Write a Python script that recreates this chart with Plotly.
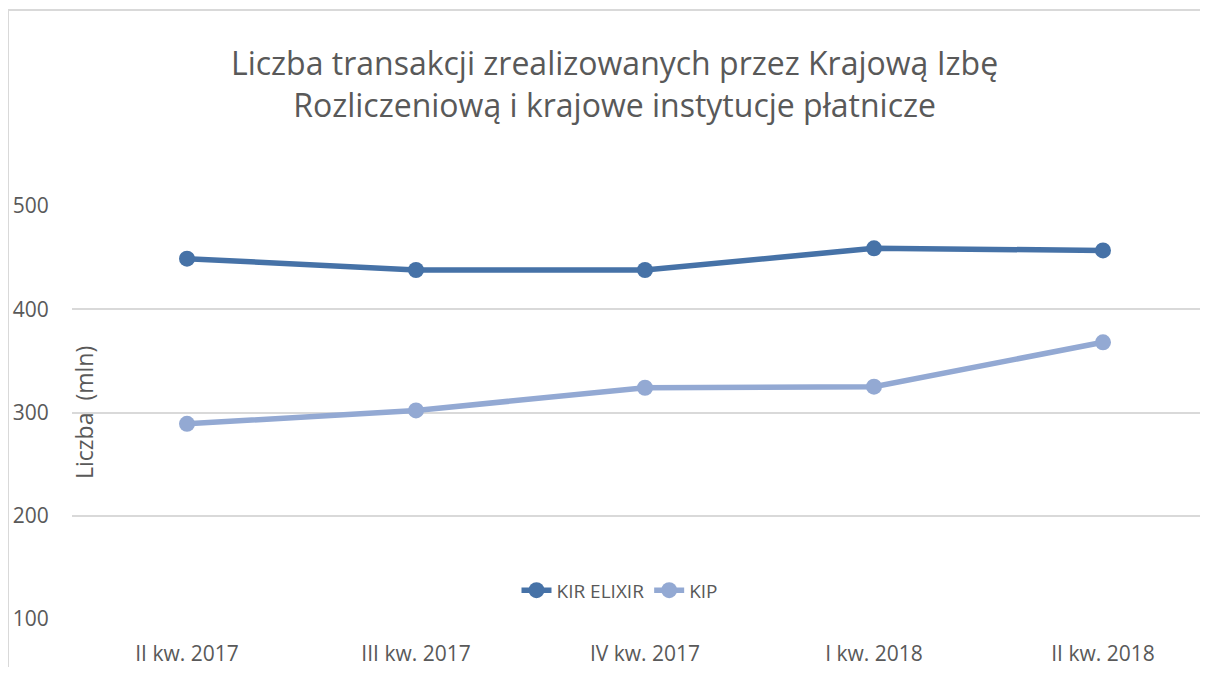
import plotly.graph_objects as go

categories = ["II kw. 2017", "III kw. 2017", "IV kw. 2017", "I kw. 2018", "II kw. 2018"]
kir_elixir = [449, 438, 438, 459, 457]
kip = [289, 302, 324, 325, 368]

FONT = "Open Sans"
GREY = "#595959"

fig = go.Figure()
fig.add_trace(go.Scatter(x=categories, y=kir_elixir, name="KIR ELIXIR", mode="lines+markers",
                         line=dict(color="#4672A7", width=5.5), marker=dict(size=16, color="#4672A7")))
fig.add_trace(go.Scatter(x=categories, y=kip, name="KIP", mode="lines+markers",
                         line=dict(color="#93A9D3", width=5.5), marker=dict(size=16, color="#93A9D3")))

OFF = 8  # page body offset
W, H = 1192, 659
L, R, T, B = 72 - OFF, 0, 206 - OFF, H - (623 - OFF)
pw = W - L - R
ph = H - T - B
# category index at plot edges (categories at screen x = 187 + 229*i)
x_lo = (72 - 187) / 229
x_hi = (W + OFF - 187) / 229

def px(x):
    return (x - OFF - L) / pw

def py(y):
    return (H - B - (y - OFF)) / ph

fig.update_layout(
    width=W, height=H,
    margin=dict(l=L, r=R, t=T, b=B),
    paper_bgcolor="white", plot_bgcolor="white",
    font=dict(family=FONT, color=GREY, size=19),
    showlegend=True,
    legend=dict(orientation="h", x=px(620), y=py(594), xanchor="center", yanchor="middle",
                font=dict(size=19, color=GREY), bgcolor="rgba(0,0,0,0)"),
    xaxis=dict(range=[x_lo, x_hi], showgrid=False, showline=False, zeroline=False,
               ticks="outside", ticklen=16, tickcolor="rgba(0,0,0,0)",
               tickfont=dict(size=21, color=GREY)),
    yaxis=dict(range=[100, 500], dtick=100, showgrid=True, gridcolor="#D9D9D9", gridwidth=2,
               zeroline=False, showline=False,
               ticks="outside", ticklen=18, tickcolor="rgba(0,0,0,0)",
               tickfont=dict(size=21, color=GREY)),
    annotations=[
        dict(text="Liczba transakcji zrealizowanych przez Krajową Izbę<br>Rozliczeniową i krajowe instytucje płatnicze",
             xref="paper", yref="paper", x=px(614), y=py(82), xanchor="center", yanchor="middle",
             showarrow=False, font=dict(size=32, color=GREY, family=FONT)),
        dict(text="Liczba  (mln)", textangle=-90, xref="paper", yref="paper",
             x=px(84), y=py(415), xanchor="center", yanchor="middle",
             showarrow=False, font=dict(size=23, color=GREY, family=FONT)),
    ],
    shapes=[
        dict(type="line", xref="paper", yref="paper", x0=px(8), x1=px(1215), y0=py(8), y1=py(8),
             line=dict(color="#D9D9D9", width=2)),
        dict(type="line", xref="paper", yref="paper", x0=px(8), x1=px(8), y0=py(8), y1=py(680),
             line=dict(color="#D9D9D9", width=2)),
    ],
)

fig.write_html("out.html")
